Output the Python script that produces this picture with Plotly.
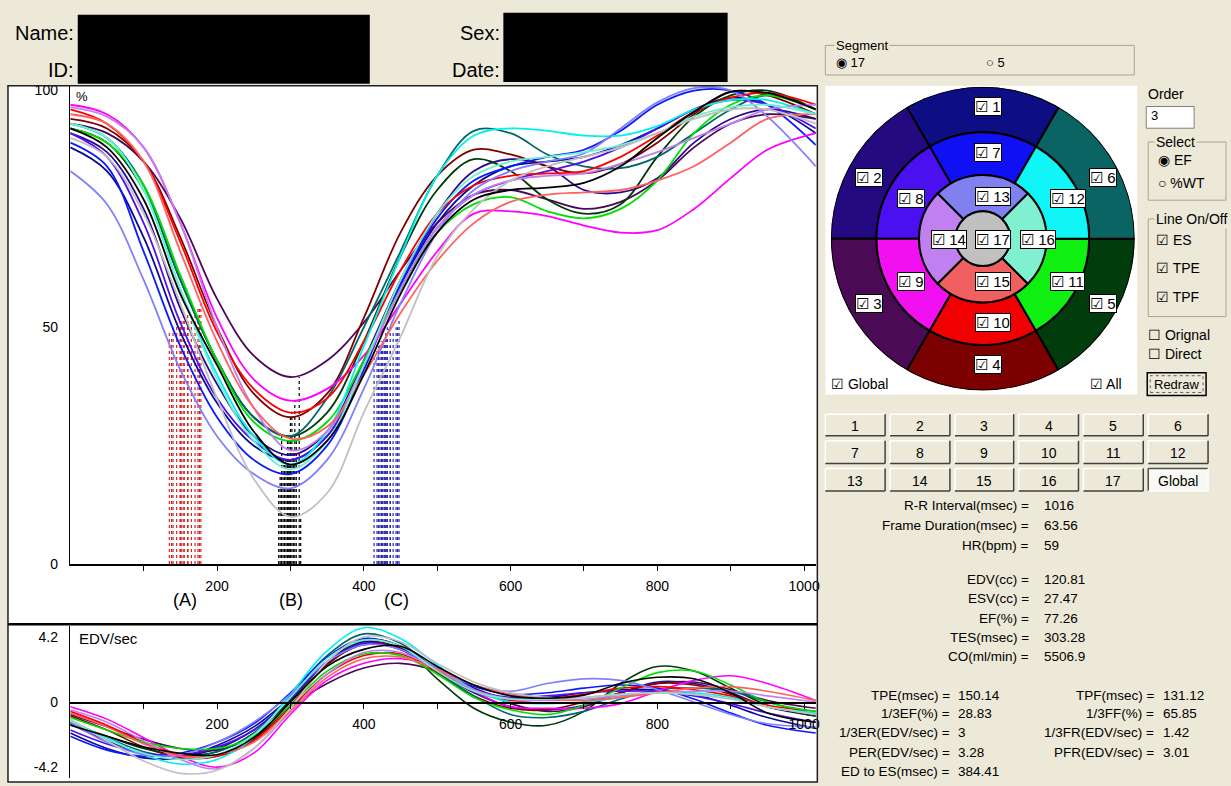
import plotly.graph_objects as go

W, H = 1231, 786
BG = "#ECE9D8"
FONT = "Liberation Sans, Arial, sans-serif"

# ------------------------------------------------------------------ data
time_ms = [0, 50, 100, 150, 200, 250, 300, 350, 400, 450, 500, 550, 600, 650, 700, 750, 800, 850, 900, 950, 1016]

segment_names = ["1", "2", "3", "4", "5", "6", "7", "8", "9", "10", "11", "12",
                 "13", "14", "15", "16", "17", "Global"]
curve_colors = ["#0A0A96", "#2A0A8C", "#4A0858", "#800000", "#003A0A", "#006868",
                "#0A1AFF", "#5010F0", "#FF00FF", "#FF0000", "#00E000", "#00F0F0",
                "#8080FF", "#C080F0", "#FF6060", "#70F0CC", "#C0C0C0", "#000000"]

# regional EF curves (% of EDV)
ef_seg1 = [88, 83, 69, 49, 34, 25, 22, 27, 42, 59, 72, 80, 84, 85, 86, 88.5, 92, 96, 98.5, 97, 91]
ef_seg2 = [91, 87, 75, 54, 38, 27, 23, 28, 43, 60, 74, 83, 85.5, 84, 79, 78.5, 81.5, 89, 94, 96, 94]
ef_seg3 = [93, 91, 85, 73, 56, 44, 39.5, 43, 51, 62, 72, 78, 79, 77, 75, 76.5, 81, 88, 93, 95, 94]
ef_seg4 = [94, 92, 85, 69, 50, 36, 31, 36, 52, 70, 82, 87.5, 86.5, 84, 82.5, 84.5, 89, 95, 99.8, 99, 95]
ef_seg5 = [92, 89, 79, 60, 43, 31, 27, 32, 47, 65, 79, 85.5, 83, 77, 74, 76, 86, 94.5, 99, 100, 96]
ef_seg6 = [93, 90, 80, 60, 43, 31, 27, 35, 50, 66, 82, 91.5, 91, 86.5, 84, 83.6, 86, 91, 96, 99, 96]
ef_seg7 = [89, 84, 66, 46, 31, 22, 19, 25, 41, 59, 73, 81, 84, 86, 87.5, 91.5, 97, 100, 100, 97, 88.5]
ef_seg8 = [91, 86, 72, 51, 35, 26, 22, 27, 42, 58, 71, 78, 81, 83, 85, 88, 92, 96, 98, 97, 92]
ef_seg9 = [97, 95, 88, 72, 52, 39, 34.5, 37, 44, 55, 66, 74, 74.5, 73.5, 71.5, 70, 70.5, 75, 81.5, 87.5, 91]
ef_seg10 = [96, 93, 85, 68, 49, 37, 32, 35, 47, 62, 74, 80, 82, 82.5, 83, 86, 90.5, 95.5, 98.5, 99.5, 97]
ef_seg11 = [92, 89, 80, 61, 43, 30, 26, 30, 43, 58, 70, 76, 77.5, 74.5, 73, 75, 81, 91, 97, 99, 96]
ef_seg12 = [93, 90, 79, 58, 40, 27, 21, 28, 46, 65, 82, 90.5, 92, 91.5, 90.5, 90.5, 92.5, 96, 98, 98, 95]
ef_seg13 = [83, 76, 60, 41, 27, 19, 16, 22, 37, 55, 70, 79, 83, 85, 86.7, 92, 97.5, 100.5, 100, 94.5, 84]
ef_seg14 = [96.5, 94.5, 88, 72, 50, 33, 24, 28, 42, 58, 71, 78, 81, 82, 82.5, 84.5, 87, 90, 93, 96, 97]
ef_seg15 = [95, 93, 85, 66, 47, 33, 26.5, 29, 40, 53, 64, 72, 76.5, 78, 78.5, 79, 81, 84, 89, 94, 95]
ef_seg16 = [93, 90, 79, 58, 39, 26, 20, 26, 42, 60, 74, 82, 85, 86, 87, 88.5, 91, 94.5, 96.5, 97, 95]
ef_seg17 = [90, 86, 74, 55, 35, 18, 10, 15, 32, 48, 65, 75, 81, 84, 86, 88, 91, 94, 96, 96, 93]
ef_global = [92, 88, 77, 57, 42, 28, 21, 26, 40, 57, 70, 77, 79, 79.5, 80.5, 84, 90, 95.5, 99.7, 99.5, 96]

# regional volume rate curves (EDV/sec)
rate_seg1 = [-2.0, -3.0, -3.6, -3.6, -2.8, -1.6, 0.3, 2.6, 3.9, 3.5, 2.1, 0.9, 0.2, 0.3, 0.6, 0.8, 0.8, 0.5, -0.2, -1.0, -1.7]
rate_seg2 = [-1.4, -2.5, -3.3, -3.5, -3.0, -1.8, 0.2, 2.5, 3.7, 3.4, 2.0, 0.6, -0.3, -0.5, -0.2, 0.6, 1.3, 1.2, 0.6, -0.3, -0.9]
rate_seg3 = [-0.8, -1.6, -2.4, -3.0, -3.1, -2.2, -0.3, 1.2, 2.2, 2.5, 2.0, 0.9, -0.1, -0.6, -0.3, 0.6, 1.2, 1.3, 0.8, 0.1, -0.4]
rate_seg4 = [-0.9, -1.8, -2.9, -3.6, -3.5, -2.4, -0.2, 2.4, 3.8, 3.5, 1.9, 0.4, -0.4, -0.5, 0.0, 0.6, 1.2, 1.1, 0.5, -0.3, -0.8]
rate_seg5 = [-1.4, -2.2, -3.0, -3.4, -3.2, -2.0, 0.1, 2.6, 4.0, 3.6, 1.5, -0.4, -1.3, -1.5, -0.6, 1.2, 2.3, 2.0, 0.9, -0.2, -0.9]
rate_seg6 = [-1.3, -2.3, -3.2, -3.5, -3.2, -2.0, 0.4, 3.0, 4.4, 3.8, 2.0, 0.4, -0.8, -1.0, -0.6, 0.2, 0.8, 0.9, 0.7, 0.0, -0.8]
rate_seg7 = [-2.2, -3.1, -3.5, -3.3, -2.6, -1.4, 0.6, 2.9, 4.1, 3.6, 2.1, 1.0, 0.5, 0.6, 0.9, 1.1, 0.9, 0.2, -0.7, -1.5, -2.0]
rate_seg8 = [-1.8, -2.7, -3.3, -3.4, -2.9, -1.8, 0.2, 2.6, 3.8, 3.4, 2.0, 0.8, 0.3, 0.4, 0.6, 0.7, 0.7, 0.4, -0.1, -0.7, -1.3]
rate_seg9 = [-0.3, -1.1, -2.3, -3.5, -4.2, -3.3, -0.8, 1.4, 2.5, 2.8, 2.2, 0.7, -0.3, -0.4, -0.4, -0.1, 0.7, 1.4, 1.7, 1.2, 0.1]
rate_seg10 = [-0.6, -1.5, -2.6, -3.4, -3.5, -2.5, -0.4, 1.8, 3.0, 3.1, 2.0, 0.7, 0.1, 0.2, 0.5, 0.9, 1.0, 0.8, 0.4, -0.2, -0.6]
rate_seg11 = [-1.0, -1.8, -2.6, -3.0, -3.0, -2.2, -0.2, 2.0, 3.1, 3.0, 1.8, 0.3, -0.5, -0.8, -0.2, 0.9, 1.9, 2.0, 1.1, 0.0, -0.6]
rate_seg12 = [-1.2, -2.3, -3.4, -4.0, -3.7, -2.3, 0.5, 3.3, 4.8, 4.1, 2.4, 0.8, 0.0, -0.1, 0.0, 0.3, 0.6, 0.6, 0.3, -0.3, -0.7]
rate_seg13 = [-1.3, -2.6, -3.4, -3.4, -2.6, -1.3, 0.5, 2.6, 3.7, 3.4, 2.2, 1.1, 0.7, 1.2, 1.5, 1.4, 0.8, 0.0, -0.8, -1.4, -1.6]
rate_seg14 = [-0.5, -1.3, -2.5, -3.7, -4.3, -3.0, -0.6, 1.8, 3.2, 3.2, 2.1, 0.8, 0.2, 0.1, 0.2, 0.4, 0.6, 0.7, 0.7, 0.4, 0.0]
rate_seg15 = [-0.7, -1.6, -2.7, -3.5, -3.4, -2.6, -0.6, 1.6, 2.8, 2.9, 2.1, 1.1, 0.5, 0.2, 0.1, 0.3, 0.6, 0.9, 1.0, 0.7, 0.1]
rate_seg16 = [-1.2, -2.4, -3.3, -3.7, -3.4, -2.1, 0.3, 2.8, 4.0, 3.6, 2.0, 0.7, 0.2, 0.2, 0.3, 0.5, 0.6, 0.5, 0.2, -0.3, -0.8]
rate_seg17 = [-1.1, -2.5, -3.8, -4.6, -4.4, -3.0, -0.4, 2.6, 4.2, 3.9, 2.5, 1.3, 0.6, 0.3, 0.3, 0.5, 0.6, 0.5, 0.2, -0.3, -0.8]
rate_global = [-1.5, -2.2, -2.9, -3.3, -3.4, -2.3, 0.0, 2.3, 3.4, 3.6, 2.3, 1.1, 0.4, 0.25, 0.45, 1.2, 1.6, 1.5, 0.6, -0.7, -1.3]

# timing markers per segment: (A) TPE, (B) ES, (C) TPF
tpe_ms = [140, 150, 178, 160, 155, 150, 135, 145, 176, 165, 160, 160, 138, 174, 170, 155, 150, 152]
tpe_top = [50, 52, 55, 53, 52, 52, 49, 51, 54, 53, 52, 52, 48, 54, 53, 52, 50, 52]
es_ms = [290, 298, 312, 300, 296, 288, 286, 294, 306, 302, 298, 292, 284, 304, 308, 292, 314, 300]
es_top = [22, 23, 39.5, 31, 27, 27, 19, 22, 34.5, 32, 26, 21, 16, 24, 26.5, 20, 10, 21]
tpf_ms = [425, 428, 448, 432, 430, 420, 418, 424, 446, 436, 432, 422, 414, 440, 444, 426, 436, 430]
tpf_top = [47, 48, 52, 50, 49, 46, 45, 47, 50, 50, 48, 47, 44, 49, 50, 47, 46, 48]

ef_curves = [ef_seg1, ef_seg2, ef_seg3, ef_seg4, ef_seg5, ef_seg6, ef_seg7, ef_seg8, ef_seg9,
             ef_seg10, ef_seg11, ef_seg12, ef_seg13, ef_seg14, ef_seg15, ef_seg16, ef_seg17, ef_global]
rate_curves = [rate_seg1, rate_seg2, rate_seg3, rate_seg4, rate_seg5, rate_seg6, rate_seg7, rate_seg8,
               rate_seg9, rate_seg10, rate_seg11, rate_seg12, rate_seg13, rate_seg14, rate_seg15,
               rate_seg16, rate_seg17, rate_global]

# bullseye (17-segment model)
bull_ids = list(range(1, 18))
bull_colors = ["#0E0E84", "#240A80", "#4A0A56", "#7C0000", "#003C0C", "#0A6464",
               "#1010F5", "#4A10F0", "#F010F0", "#F00000", "#10F010", "#10F5F5",
               "#8080F0", "#C080F0", "#F06060", "#80F0D0", "#C0C0C0"]

# stats
stats1_labels = ["R-R Interval(msec) =", "Frame Duration(msec) =", "HR(bpm) ="]
stats1_values = ["1016", "63.56", "59"]
stats2_labels = ["EDV(cc) =", "ESV(cc) =", "EF(%) =", "TES(msec) =", "CO(ml/min) ="]
stats2_values = ["120.81", "27.47", "77.26", "303.28", "5506.9"]
stats3_labels = ["TPE(msec) =", "1/3EF(%) =", "1/3ER(EDV/sec) =", "PER(EDV/sec) =", "ED to ES(msec) ="]
stats3_values = ["150.14", "28.83", "3", "3.28", "384.41"]
stats4_labels = ["TPF(msec) =", "1/3FF(%) =", "1/3FR(EDV/sec) =", "PFR(EDV/sec) ="]
stats4_values = ["131.12", "65.85", "1.42", "3.01"]

button_labels = ["1", "2", "3", "4", "5", "6", "7", "8", "9", "10", "11", "12",
                 "13", "14", "15", "16", "17", "Global"]

# ------------------------------------------------------------------ helpers
def fx(x):
    return x / W


def fy(y):
    return (H - y) / H


annotations = []
shapes = []


def txt(x, y, s, size=13, anchor="left", color="#000", **kw):
    annotations.append(dict(x=fx(x), y=fy(y), xref="paper", yref="paper", text=s,
                            showarrow=False, xanchor=anchor, yanchor="middle",
                            font=dict(family=FONT, size=size, color=color), **kw))


def rect(x0, y0, x1, y1, fill=None, line=None, width=1, layer="below", dash=None):
    ln = dict(color=line if line else "rgba(0,0,0,0)", width=width if line else 0)
    if dash:
        ln["dash"] = dash
    shapes.append(dict(type="rect", xref="paper", yref="paper", x0=fx(x0), x1=fx(x1),
                       y0=fy(y1), y1=fy(y0), fillcolor=fill if fill else "rgba(0,0,0,0)",
                       line=ln, layer=layer))


def seg(x0, y0, x1, y1, color, width=1, layer="above"):
    shapes.append(dict(type="line", xref="paper", yref="paper", x0=fx(x0), x1=fx(x1),
                       y0=fy(y0), y1=fy(y1), line=dict(color=color, width=width), layer=layer))


fig = go.Figure()

# ------------------------------------------------------------------ marker lines
def vlines(times, tops):
    xs, ys = [], []
    for t, h in zip(times, tops):
        xs += [t, t, None]
        ys += [0, h, None]
    return xs, ys


for times, tops, col in [(tpe_ms, tpe_top, "#D42020"), (es_ms, es_top, "#000000"),
                         (tpf_ms, tpf_top, "#2828B0")]:
    xs, ys = vlines(times, tops)
    fig.add_trace(go.Scatter(x=xs, y=ys, mode="lines", xaxis="x", yaxis="y",
                             line=dict(color=col, width=1.2, dash="dot"),
                             hoverinfo="skip", showlegend=False))

# ------------------------------------------------------------------ curves
for name, col, ef in zip(segment_names, curve_colors, ef_curves):
    fig.add_trace(go.Scatter(x=time_ms, y=ef, mode="lines", name=name, xaxis="x", yaxis="y",
                             line=dict(color=col, width=1.8, shape="spline", smoothing=1.0),
                             showlegend=False))

for name, col, rt in zip(segment_names, curve_colors, rate_curves):
    fig.add_trace(go.Scatter(x=time_ms, y=rt, mode="lines", name=name, xaxis="x2", yaxis="y2",
                             line=dict(color=col, width=1.6, shape="spline", smoothing=1.0),
                             showlegend=False))

# ------------------------------------------------------------------ bullseye
ring_inner = {"basal": 0.70, "mid": 0.42, "apical": 0.18, "apex": 0.0}
ring_outer = {"basal": 1.0, "mid": 0.70, "apical": 0.42, "apex": 0.18}
ring_of = ["basal"] * 6 + ["mid"] * 6 + ["apical"] * 4 + ["apex"]
theta_of = [90, 150, 210, 270, 330, 30, 90, 150, 210, 270, 330, 30, 90, 180, 270, 0, 0]
width_of = [60] * 12 + [90] * 4 + [360]

fig.add_trace(go.Barpolar(
    r=[ring_outer[r] - ring_inner[r] for r in ring_of],
    base=[ring_inner[r] for r in ring_of],
    theta=theta_of, width=width_of,
    marker=dict(color=bull_colors, line=dict(color="#000000", width=2)),
    text=[str(i) for i in bull_ids], hoverinfo="text", showlegend=False, subplot="polar"))

# ------------------------------------------------------------------ panels
rect(8, 84, 820, 790, fill="#FFFFFF", layer="below")
rect(8, 84, 820, 790, line="#202020", width=1.5, layer="above")
seg(8, 630, 820, 630, "#000000", 2.5)

# header
txt(76, 30, "Name:", 20, "right")
txt(76, 68, "ID:", 20, "right")
txt(504, 30, "Sex:", 20, "right")
txt(504, 68, "Date:", 20, "right")
rect(78, 12, 371, 82, fill="#000000", layer="above")
rect(505, 10, 730, 80, fill="#000000", layer="above")

# plot texts
txt(74, 95, "%", 13)
txt(186, 605, "(A)", 18, "center")
txt(292, 605, "(B)", 18, "center")
txt(398, 605, "(C)", 18, "center")
txt(77, 645, "EDV/sec", 15)

# segment group
rect(828, 43, 1138, 73, line="#A8A49A", width=1)
txt(837, 43, "Segment", 13, bgcolor=BG)
txt(837, 60, "◉ 17", 13)
txt(987, 60, "○ 5", 13)

# bullseye background + check labels
rect(828, 84, 1141, 397, fill="#FFFFFF", layer="below")
bull_label_xy = [(991, 105), (872, 177), (872, 305), (991, 367), (1107, 305), (1107, 177),
                 (991, 152), (914, 198), (914, 282), (996, 324), (1071, 282), (1071, 198),
                 (996, 196), (952, 240), (996, 282), (1041, 240), (996, 240)]
for i, (x, y) in zip(bull_ids, bull_label_xy):
    txt(x, y, "☑ %d" % i, 15, "center", bgcolor="#FFFFFF", bordercolor="#000000",
        borderwidth=1, borderpad=0)
txt(832, 386, "☑ Global", 14)
txt(1092, 386, "☑ All", 14)

# right controls
txt(1150, 92, "Order", 14)
rect(1150, 105, 1198, 127, fill="#FFFFFF", line="#808080", width=1)
txt(1153, 114, "3", 13)
rect(1152, 141, 1230, 200, line="#A8A49A", width=1)
txt(1158, 141, "Select", 14, bgcolor=BG)
txt(1160, 159, "◉ EF", 14)
txt(1160, 183, "○ %WT", 14)
rect(1152, 219, 1230, 318, line="#A8A49A", width=1)
txt(1158, 219, "Line On/Off", 14, bgcolor=BG)
txt(1158, 240, "☑ ES", 14)
txt(1158, 269, "☑ TPE", 14)
txt(1158, 298, "☑ TPF", 14)
txt(1150, 337, "☐ Orignal", 14)
txt(1150, 356, "☐ Direct", 14)
rect(1151, 375, 1210, 398, fill=BG, line="#000000", width=1.5)
rect(1154, 378, 1207, 395, line="#606060", width=1, dash="dot")
txt(1180, 387, "Redraw", 13, "center")

# buttons
cols_x = [(828, 888), (893, 953), (958, 1017), (1022, 1082), (1087, 1147), (1152, 1212)]
rows_y = [(417, 439), (444, 467), (472, 495)]
for i, lab in enumerate(button_labels):
    x0, x1 = cols_x[i % 6]
    y0, y1 = rows_y[i // 6]
    pressed = lab == "Global"
    rect(x0, y0, x1, y1, fill="#F8F8F4" if pressed else BG)
    hi, lo = ("#505050", "#FFFFFF") if pressed else ("#FFFFFF", "#404040")
    seg(x0, y0, x1, y0, hi, 1.5)
    seg(x0, y0, x0, y1, hi, 1.5)
    seg(x0, y1, x1, y1, lo, 1.5)
    seg(x1, y0, x1, y1, lo, 1.5)
    txt((x0 + x1) / 2, (y0 + y1) / 2 + 1, lab, 14, "center")

# stats text
for k, (lab, val) in enumerate(zip(stats1_labels, stats1_values)):
    y = [510, 530, 550][k]
    txt(1034, y, lab, 13.5, "right")
    txt(1045, y, val, 13.5)
for k, (lab, val) in enumerate(zip(stats2_labels, stats2_values)):
    y = [585, 604, 624, 644, 663][k]
    txt(1034, y, lab, 13.5, "right")
    txt(1045, y, val, 13.5)
for k, (lab, val) in enumerate(zip(stats3_labels, stats3_values)):
    y = [702, 721, 740, 760, 779][k]
    txt(955, y, lab, 13.5, "right")
    txt(959, y, val, 13.5)
for k, (lab, val) in enumerate(zip(stats4_labels, stats4_values)):
    y = [702, 721, 740, 760][k]
    txt(1160, y, lab, 13.5, "right")
    txt(1165, y, val, 13.5)

# ------------------------------------------------------------------ layout
xtickvals = [100, 200, 300, 400, 500, 600, 700, 800, 900, 1000]
xticktext = ["", "200", "", "400", "", "600", "", "800", "", "1000"]
axis_font = dict(family=FONT, size=14, color="#000")

fig.update_layout(
    width=W, height=H, autosize=False,
    margin=dict(l=0, r=0, t=0, b=0),
    paper_bgcolor=BG, plot_bgcolor="#FFFFFF",
    showlegend=False, hovermode=False,
    font=dict(family=FONT, size=13, color="#000"),
    xaxis=dict(domain=[fx(70.5), fx(818.5)], range=[0, 1016], anchor="y",
               showline=True, linecolor="#000", linewidth=1.5, ticks="outside", ticklen=5,
               tickcolor="#000", tickvals=xtickvals, ticktext=xticktext, tickfont=axis_font,
               showgrid=False, zeroline=False, ticklabelstandoff=4),
    yaxis=dict(domain=[fy(569), fy(84)], range=[0, 101], anchor="x",
               showline=True, linecolor="#000", linewidth=1.5, ticks="",
               tickvals=[0, 50, 100], ticktext=["0", "50", "100"], tickfont=axis_font,
               showgrid=False, zeroline=False, ticklabelstandoff=8),
    xaxis2=dict(domain=[fx(70.5), fx(818.5)], range=[0, 1016], anchor="free", position=fy(709),
                showline=True, linecolor="#000", linewidth=1.5, ticks="outside", ticklen=5,
                tickcolor="#000", tickvals=xtickvals, ticktext=xticktext, tickfont=axis_font,
                showgrid=False, zeroline=False, ticklabelstandoff=4),
    yaxis2=dict(domain=[0, fy(632)], range=[-4.9, 4.9], anchor="x2",
                showline=True, linecolor="#000", linewidth=1.5, ticks="",
                tickvals=[4.2, 0, -4.2], ticktext=["4.2", "0", "-4.2"], tickfont=axis_font,
                showgrid=False, zeroline=False, ticklabelstandoff=8),
    polar=dict(domain=dict(x=[fx(832), fx(1140)], y=[fy(393), fy(85)]),
               bgcolor="rgba(0,0,0,0)",
               radialaxis=dict(visible=False, range=[0, 1.0]),
               angularaxis=dict(visible=False, direction="counterclockwise", rotation=0)),
    annotations=annotations, shapes=shapes,
)

fig.write_html(
    "out.html",
    config={"displayModeBar": False, "staticPlot": True},
    post_script=("var s=document.documentElement.style;s.margin='0';s.padding='0';"
                 "s.overflow='hidden';"
                 "var b=document.body.style;b.margin='0';b.padding='0';b.overflow='hidden';"),
)
